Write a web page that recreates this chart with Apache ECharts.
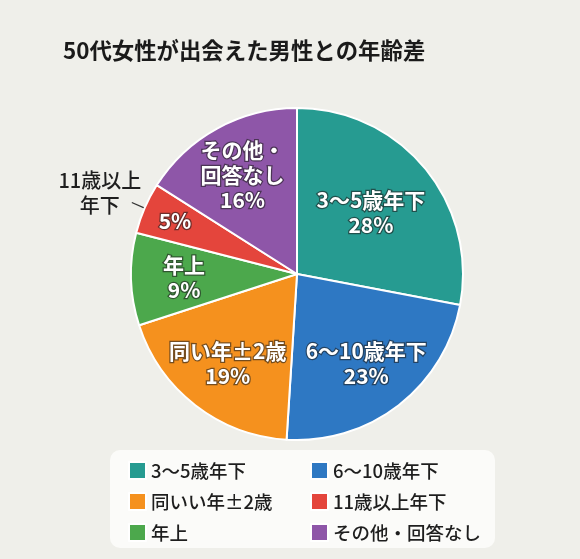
<!DOCTYPE html>
<html>
<head>
<meta charset="utf-8">
<script src="https://cdn.jsdelivr.net/npm/echarts@6/dist/echarts.min.js"></script>
<style>
html,body{margin:0;padding:0;background:#efefea;}
#chart{width:580px;height:559px;}
</style>
</head>
<body>
<div id="chart"></div>
<script>
const titleText = '50代女性が出会えた男性との年齢差';
const categories = ['3〜5歳年下', '6〜10歳年下', '同いい年±2歳', '年上', '11歳以上年下', 'その他・回答なし'];
const values = [28, 23, 19, 9, 5, 16];
const sliceLabels = ['3〜5歳年下', '6〜10歳年下', '同い年±2歳', '年上', '', 'その他・\n回答なし'];
const outsideLabelLines = ['11歳以上', '年下'];
const legendLeft = [categories[0], categories[2], categories[3]];
const legendRight = [categories[1], categories[4], categories[5]];
const colors = ['#269b91', '#2e78c3', '#f5911e', '#4ca84c', '#e4453c', '#8e56a8'];

const FONT = '"Noto Sans CJK JP", "Noto Sans", sans-serif';
const CENTER = [297, 274];
const R = 166;

const insideLabel = {
  position: 'inside',
  color: '#fff',
  fontFamily: FONT,
  fontSize: 21,
  fontWeight: 'bold',
  lineHeight: 25,
  textBorderColor: 'rgba(30,30,30,0.6)',
  textBorderWidth: 2.5,
  formatter: p => (sliceLabels[p.dataIndex] ? sliceLabels[p.dataIndex] + '\n' : '') + p.value + '%'
};

function overlay(radius, showIdx, labelOpt) {
  return {
    type: 'pie',
    center: CENTER,
    radius: radius,
    silent: true,
    avoidLabelOverlap: false,
    emphasis: {disabled: true},
    itemStyle: {color: 'rgba(0,0,0,0)', borderWidth: 0},
    label: labelOpt,
    labelLine: {show: false},
    data: categories.map((c, i) => ({
      name: c, value: values[i],
      label: {show: showIdx.indexOf(i) >= 0},
      labelLine: {show: false}
    }))
  };
}

const chart = echarts.init(document.getElementById('chart'));
const legendBase = {
  orient: 'vertical',
  itemWidth: 17,
  itemHeight: 17,
  itemGap: 12,
  icon: 'rect',
  selectedMode: false,
  textStyle: {fontFamily: FONT, fontSize: 18.5, fontWeight: 500, color: '#1e1e1e', lineHeight: 18.5}
};

const leader = {show: true, length: 14, length2: 0, lineStyle: {color: '#333', width: 1.3}};
const outsideSeries = overlay([0, R], [4], {
  position: 'outside',
  distanceToLabelLine: -12,
  padding: [0, 0, 20, 0],
  formatter: () => outsideLabelLines.map(t => '{a|' + t + '}').join('\n'),
  rich: {a: {width: 88, align: 'center', fontFamily: FONT, fontSize: 20, fontWeight: 500, lineHeight: 25, color: '#1e1e1e'}}
});
outsideSeries.data[4].labelLine = leader;
outsideSeries.labelLine = leader;

chart.setOption({
  backgroundColor: '#efefea',
  animation: false,
  title: {
    text: titleText,
    left: 58, top: 34,
    textStyle: {fontFamily: FONT, fontSize: 22.4, fontWeight: 'bold', color: '#1a1a1a'}
  },
  graphic: [{
    type: 'rect', z: -10,
    shape: {x: 110, y: 450, width: 385, height: 98, r: 10},
    style: {fill: '#fbfbf9'}
  }],
  legend: [
    Object.assign({}, legendBase, {left: 123, top: 456, data: legendLeft}),
    Object.assign({}, legendBase, {left: 305, top: 456, data: legendRight})
  ],
  series: [
    {
      type: 'pie',
      center: CENTER,
      radius: [0, R],
      avoidLabelOverlap: false,
      emphasis: {disabled: true},
      itemStyle: {borderColor: '#fff', borderWidth: 2},
      label: {show: false},
      labelLine: {show: false},
      data: categories.map((c, i) => ({
        name: c, value: values[i],
        itemStyle: {color: colors[i]}
      }))
    },
    overlay([20, R], [0], insideLabel),
    overlay([54, R], [1, 2, 3, 5], insideLabel),
    overlay([94, R], [4], insideLabel),
    outsideSeries
  ]
});
</script>
</body>
</html>
